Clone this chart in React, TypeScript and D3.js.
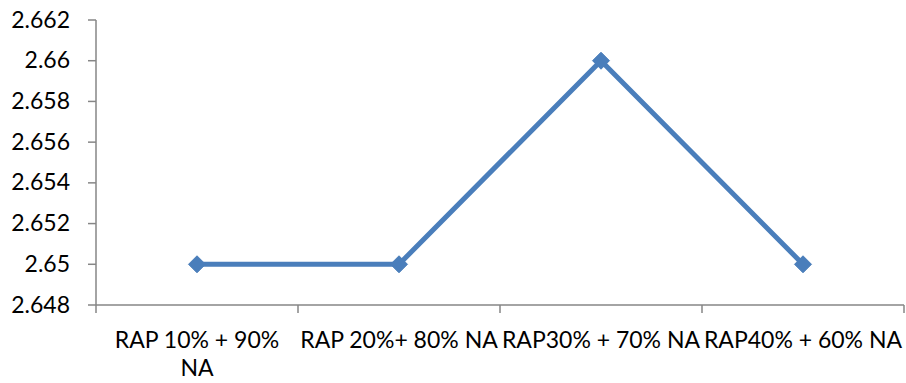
import React from "react";
import * as d3 from "d3";

const categories = ["RAP 10% + 90% NA", "RAP 20%+ 80% NA", "RAP30% + 70% NA", "RAP40% + 60% NA"];
const labelLines = [["RAP 10% + 90%", "NA"], ["RAP 20%+ 80% NA"], ["RAP30% + 70% NA"], ["RAP40% + 60% NA"]];
const values = [2.65, 2.65, 2.66, 2.65];
const yTicks = [2.648, 2.65, 2.652, 2.654, 2.656, 2.658, 2.66, 2.662];
const yTickLabels = ["2.648", "2.65", "2.652", "2.654", "2.656", "2.658", "2.66", "2.662"];

export default function App() {
  const W = 906, H = 383;
  const left = 96, right = 904, top = 20, bottom = 305;
  const x = d3.scaleBand<string>().domain(categories).range([left, right]).padding(0);
  const y = d3.scaleLinear().domain([2.648, 2.662]).range([bottom, top]);
  const line = d3.line<number>().x((_, i) => x(categories[i])! + x.bandwidth() / 2).y(d => y(d));
  const axisColor = "#868686";
  const blue = "#4A7EBB";
  const font = "Lato, 'Open Sans', sans-serif";
  const fs = 23;
  const boundaries = [...categories.map(c => x(c)!), right];
  return (
    <svg width={W} height={H} style={{ position: "absolute", left: 0, top: 0 }}>
      <rect width={W} height={H} fill="#fff" />
      <line x1={left} x2={left} y1={top} y2={bottom} stroke={axisColor} strokeWidth={1.5} />
      <line x1={left} x2={right} y1={bottom} y2={bottom} stroke={axisColor} strokeWidth={1.5} />
      {yTicks.map((t, i) => (
        <g key={i}>
          <line x1={left - 8} x2={left} y1={y(t)} y2={y(t)} stroke={axisColor} strokeWidth={1.5} />
          <text x={70} y={y(t) + 7.5} textAnchor="end" fontFamily={font} fontSize={fs} fill="#000">{yTickLabels[i]}</text>
        </g>
      ))}
      {boundaries.map((b, i) => (
        <line key={i} x1={b} x2={b} y1={bottom} y2={bottom + 8} stroke={axisColor} strokeWidth={1.5} />
      ))}
      {categories.map((c, i) => (
        <text key={c} x={x(c)! + x.bandwidth() / 2} y={348} textAnchor="middle" fontFamily={font} fontSize={fs} fill="#000">
          {labelLines[i].map((l, j) => (
            <tspan key={j} x={x(c)! + x.bandwidth() / 2} dy={j === 0 ? 0 : 28}>{l}</tspan>
          ))}
        </text>
      ))}
      <path d={line(values) || ""} fill="none" stroke={blue} strokeWidth={5} strokeLinejoin="round" />
      {values.map((v, i) => {
        const cx = x(categories[i])! + x.bandwidth() / 2;
        const cy = y(v);
        const r = 8.5;
        return <path key={i} d={`M${cx},${cy - r}L${cx + r},${cy}L${cx},${cy + r}L${cx - r},${cy}Z`} fill={blue} stroke={blue} strokeWidth={1} />;
      })}
    </svg>
  );
}
